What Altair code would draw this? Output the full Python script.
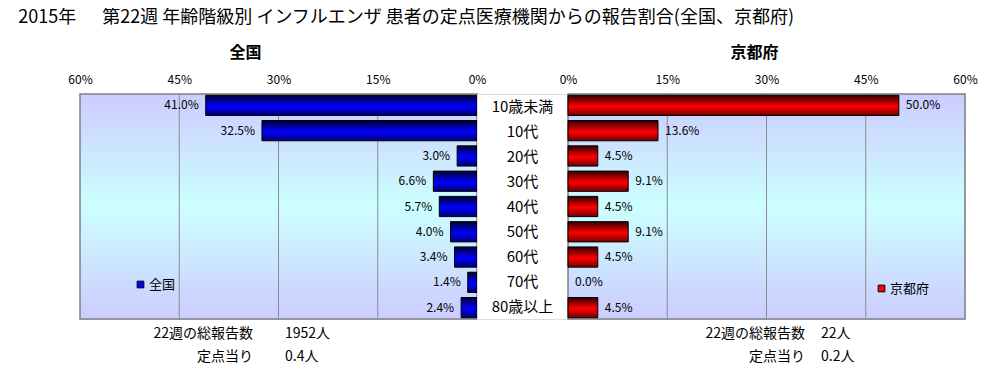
import altair as alt
import pandas as pd

# ---- data ----
categories = ["10歳未満", "10代", "20代", "30代", "40代", "50代", "60代", "70代", "80歳以上"]
national = [41.0, 32.5, 3.0, 6.6, 5.7, 4.0, 3.4, 1.4, 2.4]
kyoto = [50.0, 13.6, 4.5, 9.1, 4.5, 9.1, 4.5, 0.0, 4.5]
axis_ticks = [0, 15, 30, 45, 60]
grid_ticks = [15, 30, 45]
series_names = ["全国", "京都府"]
total_labels = ["22週の総報告数", "定点当り"]
national_totals = ["1952人", "0.4人"]
kyoto_totals = ["22人", "0.2人"]
main_title = "2015年　\u00a0\u00a0第22週 年齢階級別 インフルエンザ 患者の定点医療機関からの報告割合(全国、京都府)"

FONT = "Noto Sans CJK JP"
W, H = 397, 225
MID_W = 91


def vgrad(stops):
    return alt.LinearGradient(
        gradient="linear",
        stops=[alt.GradientStop(color=c, offset=o) for o, c in stops],
        x1=0, x2=0, y1=0, y2=1,
    )


bg_grad = vgrad([(0, "#ccccff"), (0.5, "#ccffff"), (1, "#ccccff")])
blue_grad = vgrad([(0, "#000030"), (0.55, "#0000ff"), (1, "#000070")])
red_grad = vgrad([(0, "#300000"), (0.55, "#ff0000"), (1, "#700000")])

yscale = alt.Scale(domain=categories, paddingInner=0.2, paddingOuter=0.05)


def make_axis():
    return alt.Axis(
        orient="top", values=axis_ticks, labelExpr="datum.value + '%'",
        grid=False, ticks=False, domain=False, labelPadding=8, labelFlush=False,
        labelFontSize=12, labelColor="black", title=None, labelFont=FONT,
    )


def panel(values, name, reverse, grad, color, title_dx, leg_x, leg_y, totals, lab_x, val_x):
    df = pd.DataFrame({"age": categories, "v": values, "series": name})
    df["label"] = [f"{v:.1f}%" for v in values]
    xscale = alt.Scale(domain=[0, 60], reverse=reverse, nice=False, zero=True)
    X = lambda f: alt.X(f, scale=xscale, axis=make_axis())
    Y = alt.Y("age:N", scale=yscale, axis=None)

    bg = alt.Chart(pd.DataFrame({"a": [0]})).mark_rect(
        fill=bg_grad, stroke="#808080", strokeWidth=1.5
    ).encode(x=alt.value(0), x2=alt.value(W), y=alt.value(0), y2=alt.value(H))

    grid = alt.Chart(pd.DataFrame({"t": grid_ticks})).mark_rule(
        color="#8c8c8c", strokeWidth=1
    ).encode(x=X("t:Q"))

    bars = alt.Chart(df).transform_filter("datum.v > 0").mark_bar(
        fill=grad, stroke="black", strokeWidth=1
    ).encode(x=X("v:Q"), y=Y)

    labels = alt.Chart(df).mark_text(
        align="right" if reverse else "left",
        dx=-7 if reverse else 7,
        fontSize=12, font=FONT, color="black", baseline="middle",
    ).encode(x=X("v:Q"), y=Y, text="label:N")

    legend = alt.Chart(df).mark_square(opacity=0).encode(
        x=X("v:Q"),
        y=Y,
        color=alt.Color(
            "series:N",
            scale=alt.Scale(domain=[name], range=[color]),
            legend=alt.Legend(
                orient="none", legendX=leg_x, legendY=leg_y, title=None,
                symbolType="square", symbolOpacity=1, symbolStrokeColor="black",
                symbolStrokeWidth=1, symbolSize=45, labelFontSize=13, labelFont=FONT,
                labelColor="black", labelOffset=2, padding=0,
            ),
        ),
    )

    tdf = pd.DataFrame({"k": total_labels, "n": totals})
    texts = []
    for i, yy in enumerate([H + 15, H + 38]):
        row = tdf.iloc[[i]]
        texts.append(
            alt.Chart(row).mark_text(align="right", baseline="middle", fontSize=14, font=FONT, color="black")
            .encode(x=alt.value(lab_x), y=alt.value(yy), text="k:N")
        )
        texts.append(
            alt.Chart(row).mark_text(align="left", baseline="middle", fontSize=14, font=FONT, color="black")
            .encode(x=alt.value(val_x), y=alt.value(yy), text="n:N")
        )

    return alt.layer(bg, grid, bars, labels, legend, *texts).properties(
        width=W, height=H,
        title=alt.TitleParams(text=name, fontSize=16, fontWeight="bold", font=FONT,
                              anchor="middle", dx=title_dx, offset=12, color="black"),
    )


left = panel(national, series_names[0], True, blue_grad, "#0000ff", -33, 54, 184,
             national_totals, 173, 205)
right = panel(kyoto, series_names[1], False, red_grad, "#ff0000", -12, 307, 188,
              kyoto_totals, 237, 253)

mid = alt.Chart(pd.DataFrame({"age": categories})).mark_text(
    fontSize=15, font=FONT, color="black", baseline="middle", align="center"
).encode(
    x=alt.value(MID_W / 2),
    y=alt.Y("age:N", scale=yscale, axis=None),
    text="age:N",
).properties(width=MID_W, height=H)

chart = alt.hconcat(left, mid, right, spacing=0, bounds="flush").resolve_scale(
    x="independent", color="independent"
).resolve_legend(color="independent").properties(
    title=alt.TitleParams(text=main_title, anchor="start", fontSize=18, fontWeight="normal",
                          font=FONT, dx=-49, offset=18, color="black"),
    padding={"left": 10, "top": 0, "right": 5, "bottom": 5},
).configure_view(stroke="transparent").configure(background="white")

chart.save("out.html", embed_options={"renderer": "svg", "actions": False})
